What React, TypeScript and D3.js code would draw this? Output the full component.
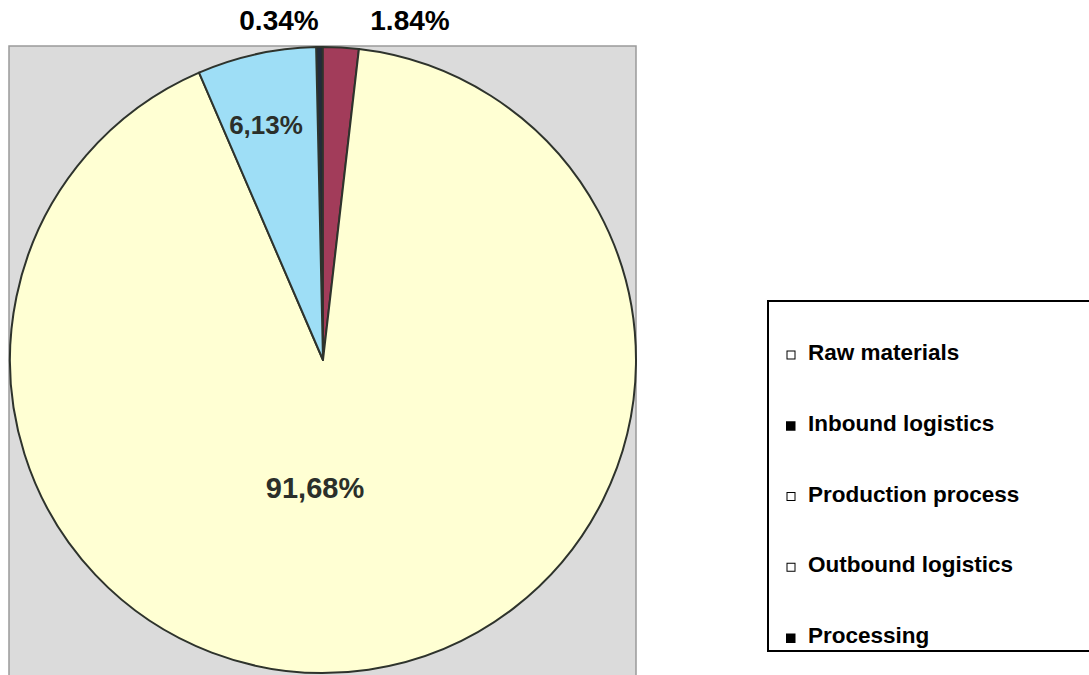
import React from "react";
import * as d3 from "d3";

const sliceNames = ["Segment A", "Segment B", "Segment C", "Segment D"];
const sliceValues = [0.34, 1.84, 91.68, 6.13];
const sliceColors = ["#232a3a", "#a23c5a", "#ffffd3", "#9edef6"];

const legendLabels = ["Raw materials", "Inbound logistics", "Production process", "Outbound logistics", "Processing"];
const legendFilled = [false, true, false, false, true];

const W = 1089;
const H = 675;

export default function App() {
  const cx = 323;
  const cy = 360;
  const r = 313;
  const pie = d3.pie<number>().sort(null).value((d) => d).startAngle(-0.022).endAngle(-0.022 + Math.PI * 2);
  const arcs = pie(sliceValues);
  const arc = d3.arc<d3.PieArcDatum<number>>().innerRadius(0).outerRadius(r);

  const legendY = d3.scaleLinear().domain([0, legendLabels.length - 1]).range([360, 643]);

  const font = "'Liberation Sans', Arial, sans-serif";

  return (
    <svg width={W} height={H} style={{ position: "absolute", left: 0, top: 0, background: "#fff" }}>
      <rect x={9} y={46} width={627} height={640} fill="#dbdbdb" stroke="#9a9a9a" strokeWidth={1.5} />
      <g transform={`translate(${cx},${cy})`}>
        {arcs.map((a, i) => (
          <path key={sliceNames[i]} d={arc(a) || ""} fill={sliceColors[i]} stroke="#2e332c" strokeWidth={2} strokeLinejoin="round" />
        ))}
      </g>
      <text x={279} y={30} textAnchor="middle" fontFamily={font} fontWeight="bold" fontSize={28} fill="#000">0.34%</text>
      <text x={410} y={30} textAnchor="middle" fontFamily={font} fontWeight="bold" fontSize={28} fill="#000">1.84%</text>
      <text x={266} y={134} textAnchor="middle" fontFamily={font} fontWeight="bold" fontSize={26} fill="#2b2f2a">6,13%</text>
      <text x={315} y={498} textAnchor="middle" fontFamily={font} fontWeight="bold" fontSize={29} fill="#2b2f2a">91,68%</text>

      <rect x={768} y={301} width={330} height={350} fill="#fff" stroke="#000" strokeWidth={2} />
      {legendLabels.map((l, i) => {
        const y = legendY(i);
        return (
          <g key={l}>
            {legendFilled[i] ? (
              <rect x={786} y={y - 9.5} width={9.5} height={9.5} fill="#000" />
            ) : (
              <rect x={787} y={y - 9} width={8} height={8} fill="#fff" stroke="#000" strokeWidth={1} />
            )}
            <text x={808} y={y} fontFamily={font} fontWeight="bold" fontSize={22.5} fill="#000">{l}</text>
          </g>
        );
      })}
    </svg>
  );
}
